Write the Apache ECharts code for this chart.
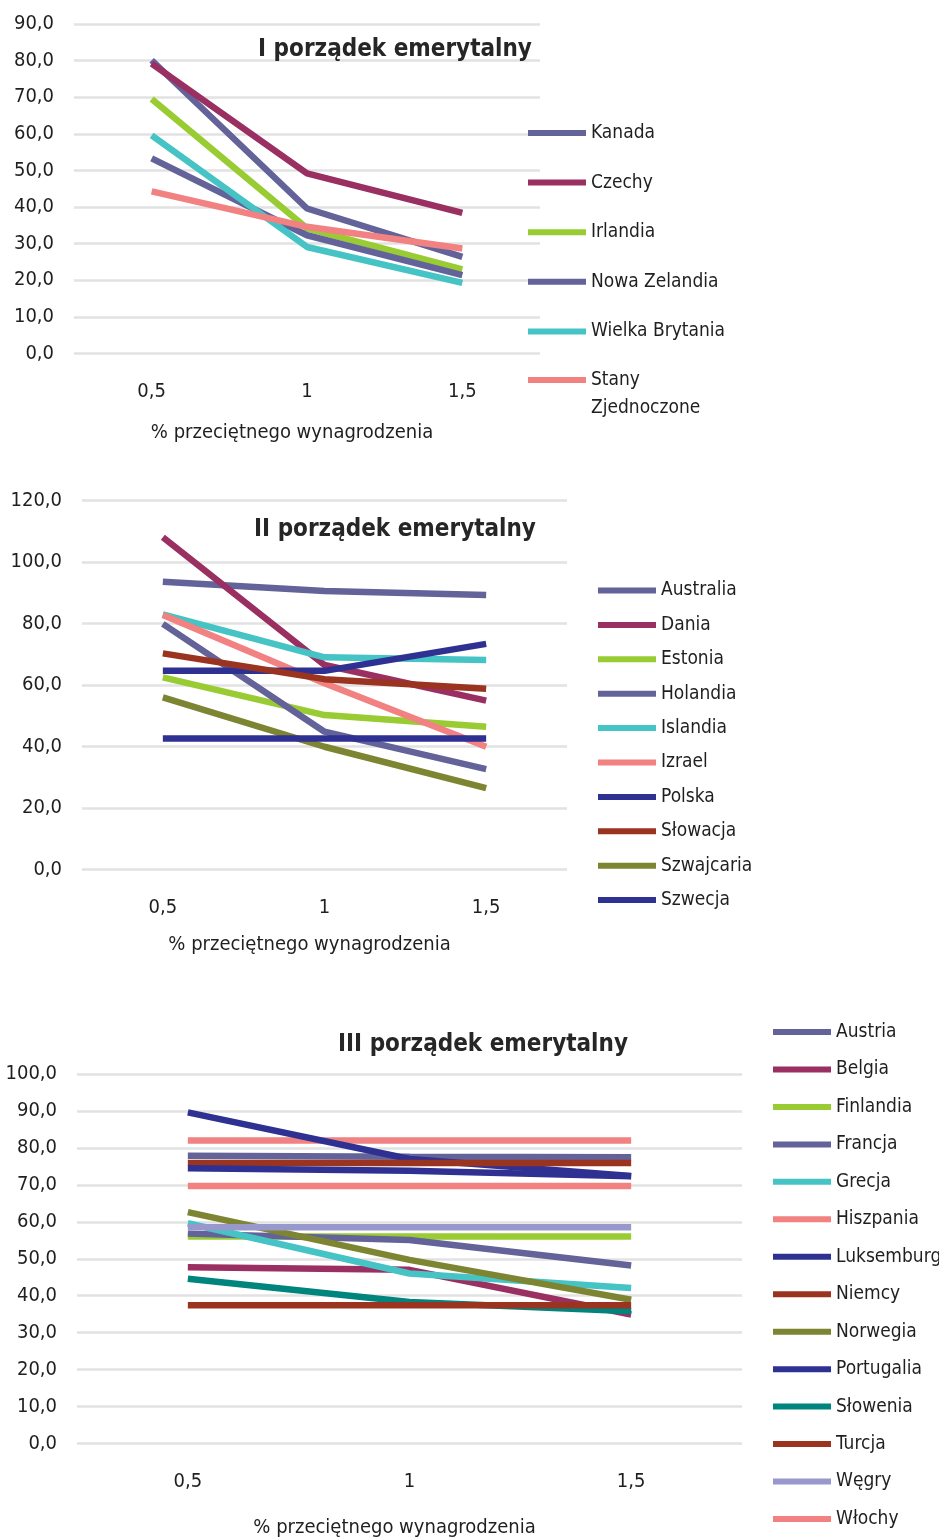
<!DOCTYPE html>
<html><head><meta charset="utf-8">
<script src="https://cdn.jsdelivr.net/npm/echarts@6/dist/echarts.min.js"></script>
<style>html,body{margin:0;padding:0;background:#fff}#c{width:939px;height:1539px}</style>
</head><body><div id="c"></div>
<script>
// ---- data ----
const xLabels = ['0,5', '1', '1,5'];
const xName = '% przeciętnego wynagrodzenia';
const titles = ['I porządek emerytalny', 'II porządek emerytalny', 'III porządek emerytalny'];

// Chart I
const kanada = [80.1, 39.6, 26.4];
const czechy = [79.2, 49.2, 38.4];
const irlandia = [69.5, 34.2, 23.0];
const nowaZelandia = [53.3, 32.3, 21.4];
const wielkaBrytania = [59.6, 29.1, 19.3];
const stanyZjednoczone = [44.3, 34.6, 28.7];

// Chart II
const australia = [93.6, 90.6, 89.3];
const dania = [108.1, 66.5, 54.9];
const estonia = [62.5, 50.2, 46.4];
const holandia = [79.9, 44.8, 32.6];
const islandia = [83.0, 69.0, 68.1];
const izrael = [82.8, 60.6, 39.9];
const polska = [64.6, 64.6, 73.4];
const slowacja = [70.3, 61.9, 58.8];
const szwajcaria = [56.0, 39.9, 26.4];
const szwecja = [42.6, 42.6, 42.6];

// Chart III
const austria = [77.9, 77.6, 77.5];
const belgia = [47.7, 47.0, 34.9];
const finlandia = [56.0, 56.0, 56.0];
const francja = [56.8, 55.1, 48.2];
const grecja = [59.6, 46.0, 42.1];
const hiszpania = [82.0, 82.0, 82.0];
const luksemburg = [89.6, 77.0, 72.4];
const niemcy = [75.9, 75.9, 75.9];
const norwegia = [62.6, 49.7, 38.9];
const portugalia = [74.5, 73.8, 72.3];
const slowenia = [44.6, 38.3, 35.8];
const turcja = [37.4, 37.4, 37.4];
const wegry = [58.5, 58.5, 58.5];
const wlochy = [69.7, 69.7, 69.7];

// ---- styles ----
const C = {
  slate: '#63639a', plum: '#9a2f62', green: '#99cc33', cyan: '#45c3c5', pink: '#f28181',
  navy: '#2e3192', brick: '#9a3420', olive: '#7d8533', teal: '#00857e', lav: '#9898cc'
};
const FONT = "'Liberation Sans Narrow','DejaVu Sans Condensed','Roboto Condensed','Arial Narrow',sans-serif";
const TXT = '#1f1f1f';

const groups = [
  { series: [['Kanada', kanada, C.slate], ['Czechy', czechy, C.plum], ['Irlandia', irlandia, C.green],
             ['Nowa Zelandia', nowaZelandia, C.slate], ['Wielka Brytania', wielkaBrytania, C.cyan],
             ['Stany Zjednoczone', stanyZjednoczone, C.pink]],
    grid: { left: 74, right: 399, top: 24, bottom: 1539 - 353.5 }, max: 90, interval: 10,
    title: { cx: 394, cy: 45 }, legend: { left: 528, top: 122, gap: 27.6 }, nameGap: 69 },
  { series: [['Australia', australia, C.slate], ['Dania', dania, C.plum], ['Estonia', estonia, C.green],
             ['Holandia', holandia, C.slate], ['Islandia', islandia, C.cyan], ['Izrael', izrael, C.pink],
             ['Polska', polska, C.navy], ['Słowacja', slowacja, C.brick], ['Szwajcaria', szwajcaria, C.olive],
             ['Szwecja', szwecja, C.navy]],
    grid: { left: 82, right: 372, top: 500.7, bottom: 1539 - 869.3 }, max: 120, interval: 20,
    title: { cx: 394, cy: 525 }, legend: { left: 598, top: 579.5, gap: 12.4 }, nameGap: 65.5 },
  { series: [['Austria', austria, C.slate], ['Belgia', belgia, C.plum], ['Finlandia', finlandia, C.green],
             ['Francja', francja, C.slate], ['Grecja', grecja, C.cyan], ['Hiszpania', hiszpania, C.pink],
             ['Luksemburg', luksemburg, C.navy], ['Niemcy', niemcy, C.brick], ['Norwegia', norwegia, C.olive],
             ['Portugalia', portugalia, C.navy], ['Słowenia', slowenia, C.teal], ['Turcja', turcja, C.brick],
             ['Węgry', wegry, C.lav], ['Włochy', wlochy, C.pink]],
    grid: { left: 77, right: 197, top: 1074, bottom: 95 }, max: 100, interval: 10,
    title: { cx: 482, cy: 1040 }, legend: { left: 773, top: 1021, gap: 15.46 }, nameGap: 74.5 }
];

const option = { animation: false, backgroundColor: '#fff', title: [], grid: [], xAxis: [], yAxis: [], legend: [], series: [] };

groups.forEach((g, i) => {
  option.grid.push(Object.assign({ containLabel: false }, g.grid));
  option.title.push({
    text: titles[i], left: g.title.cx - 4, top: g.title.cy, textAlign: 'center', textVerticalAlign: 'middle',
    textStyle: { fontFamily: FONT, fontWeight: 'bold', fontSize: 24, color: '#262626' }
  });
  option.xAxis.push({
    type: 'category', gridIndex: i, data: xLabels, boundaryGap: true,
    axisLine: { show: false }, axisTick: { show: false },
    axisLabel: { fontFamily: FONT, fontSize: 20, color: TXT, margin: 28 },
    name: xName, nameLocation: 'middle', nameGap: g.nameGap,
    nameTextStyle: { fontFamily: FONT, fontSize: 20, color: TXT, padding: [0, 30, 0, 0] }
  });
  option.yAxis.push({
    type: 'value', gridIndex: i, min: 0, max: g.max, interval: g.interval,
    axisLine: { show: false }, axisTick: { show: false },
    axisLabel: { fontFamily: FONT, fontSize: 20, color: TXT, margin: 20,
      formatter: v => v.toFixed(1).replace('.', ',') },
    splitLine: { lineStyle: { color: '#e2e2e2', width: 2.5 } }
  });
  const names = g.series.map(s => s[0]);
  const legendBase = {
    orient: 'vertical', left: g.legend.left, itemGap: g.legend.gap, padding: 0,
    icon: 'rect', itemWidth: 58, itemHeight: 6,
    textStyle: { fontFamily: FONT, fontSize: 19, lineHeight: 22, color: TXT }
  };
  if (i === 0) {
    option.legend.push(Object.assign({}, legendBase, { top: g.legend.top, data: names.slice(0, 5) }));
    // wrapped last item: first text line level with the icon
    option.legend.push(Object.assign({}, legendBase, {
      top: 380 - 42,
      formatter: n => ' \n' + n.replace(' ', '\n'),
      textStyle: { fontFamily: FONT, fontSize: 19, lineHeight: 28, color: TXT },
      data: [names[5]]
    }));
  } else {
    option.legend.push(Object.assign({}, legendBase, { top: g.legend.top, data: names }));
  }
  g.series.forEach(s => {
    option.series.push({
      type: 'line', name: s[0], data: s[1], xAxisIndex: i, yAxisIndex: i,
      color: s[2], symbol: 'none', lineStyle: { width: 6.5, color: s[2] }
    });
  });
});

const chart = echarts.init(document.getElementById('c'), null, { renderer: 'canvas' });
chart.setOption(option);
</script></body></html>
